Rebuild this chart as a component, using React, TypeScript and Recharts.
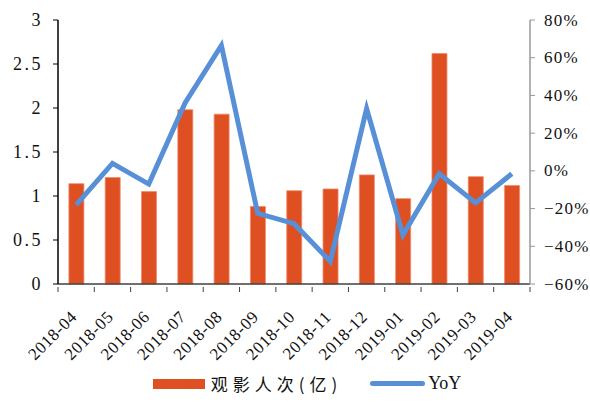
import React from "react";
import { ComposedChart, Bar, Line, XAxis, YAxis, Legend } from "recharts";

const months = ["2018-04","2018-05","2018-06","2018-07","2018-08","2018-09","2018-10","2018-11","2018-12","2019-01","2019-02","2019-03","2019-04"];
const admissions = [1.14, 1.21, 1.05, 1.98, 1.93, 0.88, 1.06, 1.08, 1.24, 0.97, 2.62, 1.22, 1.12];
const yoy = [-0.18, 0.04, -0.07, 0.36, 0.665, -0.225, -0.28, -0.48, 0.33, -0.34, -0.015, -0.17, -0.015];
const leftTicks = [0, 0.5, 1, 1.5, 2, 2.5, 3];
const rightTicks = [-0.6, -0.4, -0.2, 0, 0.2, 0.4, 0.6, 0.8];
const barName = "观影人次(亿)";
const lineName = "YoY";

const data = months.map((m, i) => ({ month: m, admissions: admissions[i], yoy: yoy[i] }));

const W = 590;
const H = 403;
const LEFT_W = 58;
const RIGHT_W = 60;
const BAND = (W - LEFT_W - RIGHT_W) / months.length;
const BAR_COLOR = "#DE4F21";
const LINE_COLOR = "#5790D7";
const SERIF = "Liberation Serif, DejaVu Serif, Times New Roman, serif";

const XTick = (props: any) => {
  const { x, y, payload, index } = props;
  return (
    <g>
      <line x1={x - BAND / 2} y1={y} x2={x - BAND / 2} y2={y - 5} stroke="#404040" strokeWidth={1} />
      {index === months.length - 1 && (
        <line x1={x + BAND / 2} y1={y} x2={x + BAND / 2} y2={y - 5} stroke="#404040" strokeWidth={1} />
      )}
      <g transform={`translate(${x - 2},${y + 22}) rotate(-45)`}>
        <text
          x={0}
          y={0}
          textAnchor="end"
          fontFamily={SERIF}
          fontSize={17}
          letterSpacing={0.6}
          fill="#111"
          dominantBaseline="central"
        >
          {payload.value}
        </text>
      </g>
    </g>
  );
};

const RightTick = (props: any) => {
  const { x, y, payload } = props;
  const p = Math.round(payload.value * 100);
  const label = p < 0 ? `\u2212${-p}%` : `${p}%`;
  return (
    <text x={x + 7} y={y} dominantBaseline="central" textAnchor="start" fontFamily={SERIF} fontSize={17} letterSpacing={1.2} fill="#111">
      {label}
    </text>
  );
};

const LegendContent = () => (
  <div style={{ display: "flex", justifyContent: "center", alignItems: "center", height: 49, paddingTop: 10, boxSizing: "border-box", paddingLeft: 24 }}>
    <div style={{ display: "flex", alignItems: "center", marginRight: 28 }}>
      <div style={{ width: 52, height: 10, background: BAR_COLOR, marginRight: 6 }} />
      <span style={{ fontFamily: "'Noto Sans CJK SC', sans-serif", fontSize: 17, color: "#111", letterSpacing: 5 }}>{barName}</span>
    </div>
    <div style={{ display: "flex", alignItems: "center" }}>
      <div style={{ width: 55, height: 5, borderRadius: 3, background: LINE_COLOR, marginRight: 3 }} />
      <span style={{ fontFamily: SERIF, fontSize: 18, color: "#111" }}>{lineName}</span>
    </div>
  </div>
);

export default function App() {
  return (
    <div style={{ position: "absolute", left: 0, top: 0, width: W, height: H, background: "#fff" }}>
      <ComposedChart width={W} height={H} data={data} margin={{ top: 20, right: 0, left: 0, bottom: 0 }} barCategoryGap="30%">
        <XAxis
          dataKey="month"
          height={70}
          interval={0}
          tickLine={false}
          tick={<XTick />}
          axisLine={{ stroke: "#404040", strokeWidth: 1.5 }}
        />
        <YAxis
          yAxisId="left"
          width={LEFT_W}
          domain={[0, 3]}
          ticks={leftTicks}
          interval={0}
          tickSize={5}
          tickLine={{ stroke: "#000" }}
          axisLine={{ stroke: "#000", strokeWidth: 1.5 }}
          tick={{ fontFamily: SERIF, fontSize: 18, fill: "#111", dx: -8, letterSpacing: 2.5 }}
          tickFormatter={(v: number) => String(v)}
        />
        <YAxis
          yAxisId="right"
          orientation="right"
          width={RIGHT_W}
          domain={[-0.6, 0.8]}
          ticks={rightTicks}
          interval={0}
          tickSize={5}
          tickLine={{ stroke: "#999" }}
          axisLine={{ stroke: "#999", strokeWidth: 1.5 }}
          tick={<RightTick />}
        />
        <Legend verticalAlign="bottom" height={49} content={<LegendContent />} />
        <Bar yAxisId="left" dataKey="admissions" name={barName} fill={BAR_COLOR} stroke="#F08A6A" strokeWidth={0.8} isAnimationActive={false} />
        <Line yAxisId="right" dataKey="yoy" name={lineName} stroke={LINE_COLOR} strokeWidth={5} dot={false} type="linear" isAnimationActive={false} />
      </ComposedChart>
    </div>
  );
}
